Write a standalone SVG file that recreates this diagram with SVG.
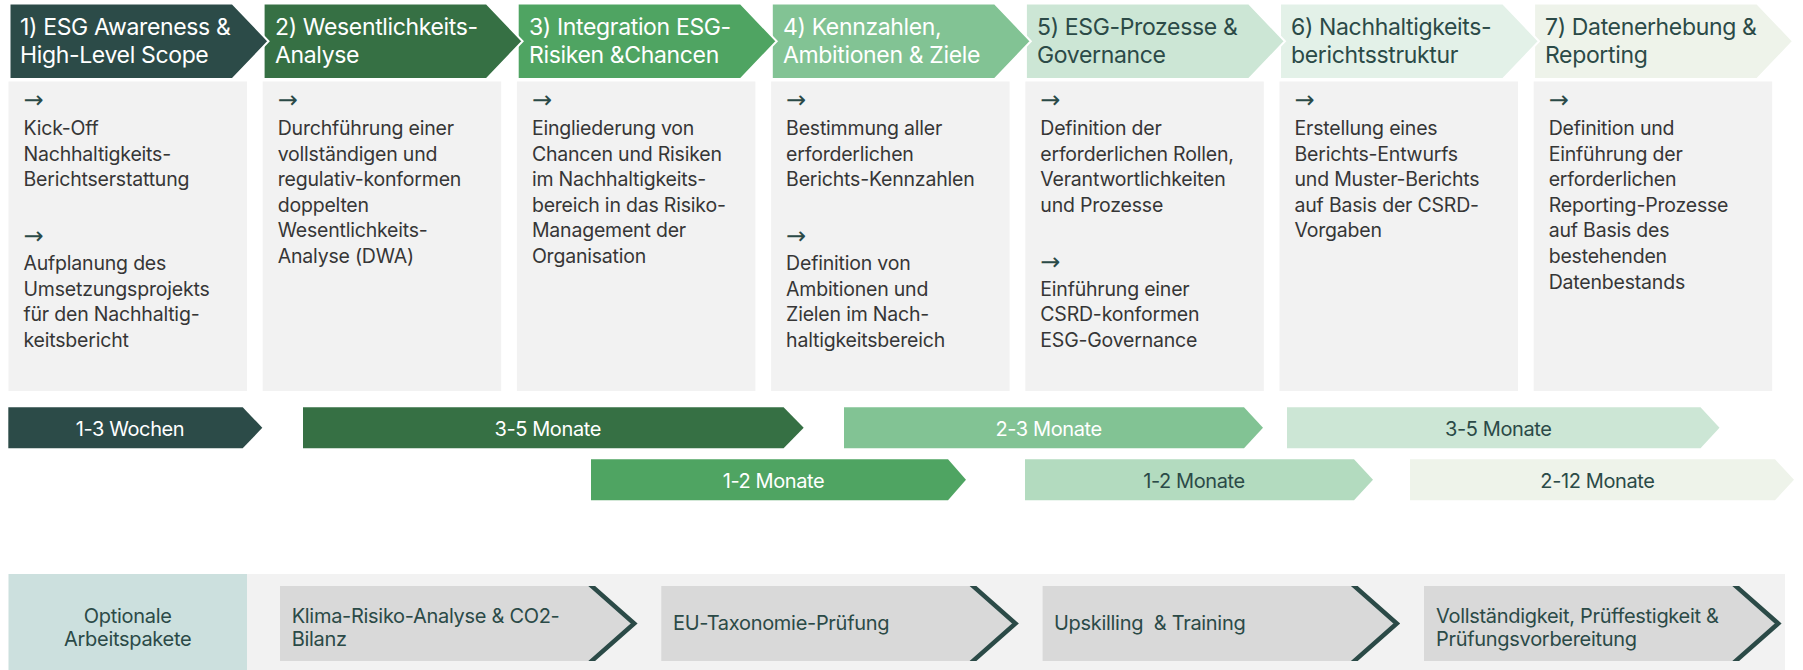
<svg xmlns="http://www.w3.org/2000/svg" width="1803" height="670" viewBox="0 0 1803 670">
<defs>
<style>
.hdr{stroke:#fff;stroke-width:2;stroke-linejoin:miter}
.ht{font-family:Inter,"Liberation Sans",sans-serif;font-size:23px;letter-spacing:-0.35px}
.wt{fill:#fff}
.dt{fill:#2B4A47}
.box{fill:#F2F2F2}
.ct{font-family:Inter,"Liberation Sans",sans-serif;font-size:19.5px;fill:#363636;letter-spacing:-0.2px}
.ar{font-family:"DejaVu Sans",sans-serif;font-size:24px;fill:#2B4A47}
.bt{font-family:Inter,"Liberation Sans",sans-serif;font-size:20px;letter-spacing:-0.4px;text-anchor:middle}
.ot{font-family:Inter,"Liberation Sans",sans-serif;font-size:20px;fill:#2B4A47;letter-spacing:-0.3px}
.pk{fill:#D9D9D9}
.chev{fill:none;stroke:#2B4A47;stroke-width:4.5;stroke-linejoin:miter}
</style>
<clipPath id="pclip" clipPathUnits="userSpaceOnUse"><rect x="0" y="586" width="1803" height="75"/></clipPath>
</defs>

<!-- Headers (drawn right to left so tips overlap the next header) -->
<g id="header7"><polygon class="hdr" fill="#EEF3EA" points="1534.1,3.5 1757.1,3.5 1793.1,41.25 1757.1,79 1534.1,79"/>
<text class="ht dt" x="1545" y="35">7) Datenerhebung &amp;</text><text class="ht dt" x="1545" y="63">Reporting</text></g>
<g id="header6"><polygon class="hdr" fill="#E3F1E8" points="1280,3.5 1503,3.5 1539,41.25 1503,79 1280,79"/>
<text class="ht dt" x="1291" y="35">6) Nachhaltigkeits-</text><text class="ht dt" x="1291" y="63">berichtsstruktur</text></g>
<g id="header5"><polygon class="hdr" fill="#CCE6D5" points="1025.9,3.5 1248.9,3.5 1284.9,41.25 1248.9,79 1025.9,79"/>
<text class="ht dt" x="1037" y="35">5) ESG-Prozesse &amp;</text><text class="ht dt" x="1037" y="63">Governance</text></g>
<g id="header4"><polygon class="hdr" fill="#82C394" points="771.8,3.5 994.8,3.5 1030.8,41.25 994.8,79 771.8,79"/>
<text class="ht wt" x="783" y="35">4) Kennzahlen,</text><text class="ht wt" x="783" y="63">Ambitionen &amp; Ziele</text></g>
<g id="header3"><polygon class="hdr" fill="#4FA462" points="517.7,3.5 740.7,3.5 776.7,41.25 740.7,79 517.7,79"/>
<text class="ht wt" x="529" y="35">3) Integration ESG-</text><text class="ht wt" x="529" y="63">Risiken &amp;Chancen</text></g>
<g id="header2"><polygon class="hdr" fill="#367044" points="263.6,3.5 486.6,3.5 522.6,41.25 486.6,79 263.6,79"/>
<text class="ht wt" x="275" y="35">2) Wesentlichkeits-</text><text class="ht wt" x="275" y="63">Analyse</text></g>
<g id="header1"><polygon class="hdr" fill="#2C4B48" points="9.5,3.5 232.5,3.5 268.5,41.25 232.5,79 9.5,79"/>
<text class="ht wt" x="20" y="35">1) ESG Awareness &amp;</text><text class="ht wt" x="20" y="63">High-Level Scope</text></g>

<!-- Content boxes -->
<g id="box1"><rect class="box" x="8.5" y="81.5" width="238.5" height="309.5"/>
<text class="ar" x="23.5" y="108">→</text>
<text class="ct" x="23.5" y="135"><tspan x="23.5">Kick-Off</tspan><tspan x="23.5" dy="25.6">Nachhaltigkeits-</tspan><tspan x="23.5" dy="25.6">Berichtserstattung</tspan></text>
<text class="ar" x="23.5" y="244">→</text>
<text class="ct" x="23.5" y="270"><tspan x="23.5">Aufplanung des</tspan><tspan x="23.5" dy="25.6">Umsetzungsprojekts</tspan><tspan x="23.5" dy="25.6">für den Nachhaltig-</tspan><tspan x="23.5" dy="25.6">keitsbericht</tspan></text></g>

<g id="box2"><rect class="box" x="262.7" y="81.5" width="238.5" height="309.5"/>
<text class="ar" x="277.7" y="108">→</text>
<text class="ct" x="277.7" y="135"><tspan x="277.7">Durchführung einer</tspan><tspan x="277.7" dy="25.6">vollständigen und</tspan><tspan x="277.7" dy="25.6">regulativ-konformen</tspan><tspan x="277.7" dy="25.6">doppelten</tspan><tspan x="277.7" dy="25.6">Wesentlichkeits-</tspan><tspan x="277.7" dy="25.6">Analyse (DWA)</tspan></text></g>

<g id="box3"><rect class="box" x="516.9" y="81.5" width="238.5" height="309.5"/>
<text class="ar" x="531.9" y="108">→</text>
<text class="ct" x="531.9" y="135"><tspan x="531.9">Eingliederung von</tspan><tspan x="531.9" dy="25.6">Chancen und Risiken</tspan><tspan x="531.9" dy="25.6">im Nachhaltigkeits-</tspan><tspan x="531.9" dy="25.6">bereich in das Risiko-</tspan><tspan x="531.9" dy="25.6">Management der</tspan><tspan x="531.9" dy="25.6">Organisation</tspan></text></g>

<g id="box4"><rect class="box" x="771.1" y="81.5" width="238.5" height="309.5"/>
<text class="ar" x="786.1" y="108">→</text>
<text class="ct" x="786.1" y="135"><tspan x="786.1">Bestimmung aller</tspan><tspan x="786.1" dy="25.6">erforderlichen</tspan><tspan x="786.1" dy="25.6">Berichts-Kennzahlen</tspan></text>
<text class="ar" x="786.1" y="244">→</text>
<text class="ct" x="786.1" y="270"><tspan x="786.1">Definition von</tspan><tspan x="786.1" dy="25.6">Ambitionen und</tspan><tspan x="786.1" dy="25.6">Zielen im Nach-</tspan><tspan x="786.1" dy="25.6">haltigkeitsbereich</tspan></text></g>

<g id="box5"><rect class="box" x="1025.3" y="81.5" width="238.5" height="309.5"/>
<text class="ar" x="1040.3" y="108">→</text>
<text class="ct" x="1040.3" y="135"><tspan x="1040.3">Definition der</tspan><tspan x="1040.3" dy="25.6">erforderlichen Rollen,</tspan><tspan x="1040.3" dy="25.6">Verantwortlichkeiten</tspan><tspan x="1040.3" dy="25.6">und Prozesse</tspan></text>
<text class="ar" x="1040.3" y="270">→</text>
<text class="ct" x="1040.3" y="295.6"><tspan x="1040.3">Einführung einer</tspan><tspan x="1040.3" dy="25.6">CSRD-konformen</tspan><tspan x="1040.3" dy="25.6">ESG-Governance</tspan></text></g>

<g id="box6"><rect class="box" x="1279.5" y="81.5" width="238.5" height="309.5"/>
<text class="ar" x="1294.5" y="108">→</text>
<text class="ct" x="1294.5" y="135"><tspan x="1294.5">Erstellung eines</tspan><tspan x="1294.5" dy="25.6">Berichts-Entwurfs</tspan><tspan x="1294.5" dy="25.6">und Muster-Berichts</tspan><tspan x="1294.5" dy="25.6">auf Basis der CSRD-</tspan><tspan x="1294.5" dy="25.6">Vorgaben</tspan></text></g>

<g id="box7"><rect class="box" x="1533.7" y="81.5" width="238.5" height="309.5"/>
<text class="ar" x="1548.7" y="108">→</text>
<text class="ct" x="1548.7" y="135"><tspan x="1548.7">Definition und</tspan><tspan x="1548.7" dy="25.6">Einführung der</tspan><tspan x="1548.7" dy="25.6">erforderlichen</tspan><tspan x="1548.7" dy="25.6">Reporting-Prozesse</tspan><tspan x="1548.7" dy="25.6">auf Basis des</tspan><tspan x="1548.7" dy="25.6">bestehenden</tspan><tspan x="1548.7" dy="25.6">Datenbestands</tspan></text></g>

<!-- Timeline bars -->
<g id="bar1"><polygon fill="#2C4B48" points="8.3,407.3 242.7,407.3 262.3,427.8 242.7,448.3 8.3,448.3"/><text class="bt wt" x="130" y="436">1-3 Wochen</text></g>
<g id="bar2"><polygon fill="#367044" points="303,407.3 783.6,407.3 803.7,427.8 783.6,448.3 303,448.3"/><text class="bt wt" x="547.7" y="436">3-5 Monate</text></g>
<g id="bar3"><polygon fill="#82C394" points="844,407.3 1244,407.3 1263,427.8 1244,448.3 844,448.3"/><text class="bt wt" x="1048.6" y="436">2-3 Monate</text></g>
<g id="bar4"><polygon fill="#CCE6D5" points="1287,407.3 1700.5,407.3 1719.5,427.8 1700.5,448.3 1287,448.3"/><text class="bt dt" x="1498.3" y="436">3-5 Monate</text></g>
<g id="bar5"><polygon fill="#4FA462" points="591,459.3 948,459.3 966,479.8 948,500.3 591,500.3"/><text class="bt wt" x="773.5" y="488">1-2 Monate</text></g>
<g id="bar6"><polygon fill="#B3DBBF" points="1025,459.3 1354,459.3 1373,479.8 1354,500.3 1025,500.3"/><text class="bt dt" x="1194" y="488">1-2 Monate</text></g>
<g id="bar7"><polygon fill="#EEF3EA" points="1410,459.3 1775,459.3 1794,479.8 1775,500.3 1410,500.3"/><text class="bt dt" x="1597.4" y="488">2-12 Monate</text></g>

<!-- Optional work packages -->
<g id="optional-bg"><rect x="247" y="574" width="1538" height="96" fill="#F2F2F2"/></g>
<g id="optional-label"><rect x="8.5" y="574" width="238.5" height="96" fill="#CCE0DE"/>
<text class="ot" x="127.7" y="623" text-anchor="middle">Optionale</text><text class="ot" x="127.7" y="646" text-anchor="middle">Arbeitspakete</text></g>

<g id="pkg1"><polygon class="pk" points="280,586 591.7,586 634.2,623.5 591.7,661 280,661"/>
<polyline class="chev" clip-path="url(#pclip)" points="588.3,583 634.2,623.5 588.3,664"/>
<text class="ot" x="291.7" y="623">Klima-Risiko-Analyse &amp; CO2-</text><text class="ot" x="291.7" y="646">Bilanz</text></g>
<g id="pkg2"><polygon class="pk" points="661.3,586 973,586 1015.5,623.5 973,661 661.3,661"/>
<polyline class="chev" clip-path="url(#pclip)" points="969.6,583 1015.5,623.5 969.6,664"/>
<text class="ot" x="673" y="630">EU-Taxonomie-Prüfung</text></g>
<g id="pkg3"><polygon class="pk" points="1042.6,586 1354.3,586 1396.8,623.5 1354.3,661 1042.6,661"/>
<polyline class="chev" clip-path="url(#pclip)" points="1350.9,583 1396.8,623.5 1350.9,664"/>
<text class="ot" x="1054" y="630" xml:space="preserve">Upskilling  &amp; Training</text></g>
<g id="pkg4"><polygon class="pk" points="1424,586 1735.7,586 1778.2,623.5 1735.7,661 1424,661"/>
<polyline class="chev" clip-path="url(#pclip)" points="1732.3,583 1778.2,623.5 1732.3,664"/>
<text class="ot" x="1436" y="623">Vollständigkeit, Prüffestigkeit &amp;</text><text class="ot" x="1436" y="646">Prüfungsvorbereitung</text></g>

<g id="connectors"></g>
</svg>
